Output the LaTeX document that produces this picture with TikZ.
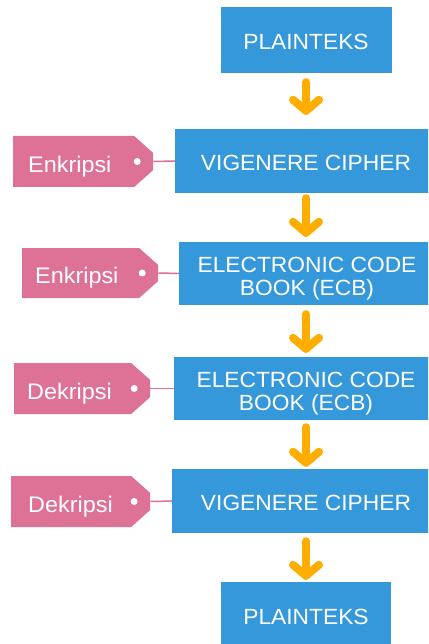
\documentclass[tikz,border=0pt]{standalone}
\usepackage{fontspec}
\setmainfont{Liberation Sans}
\newfontfamily\boxfont[FakeStretch=1.035]{Liberation Sans}
\newfontfamily\tagfont[FakeStretch=1.04]{Liberation Sans}
\definecolor{boxblue}{HTML}{3598DB}
\definecolor{tagpink}{HTML}{DE7196}
\definecolor{arrorange}{HTML}{FFAE00}
\newcommand\flowarrow[4]{%
  \draw[arr] ([yshift=-#3pt]#1.south) -- ([yshift=#4pt]#2.north);
  \draw[arr] ([shift={(-13pt,#4pt+11pt)}]#2.north) -- ([yshift=#4pt]#2.north) -- ([shift={(13pt,#4pt+11pt)}]#2.north);}
\begin{document}
\begin{tikzpicture}[x=1pt,y=-1pt,
  box/.style={fill=boxblue, inner sep=0pt},
  boxtext/.style={text=white, font=\boxfont\fontsize{22}{23}\selectfont, align=center, inner sep=0pt},
  tagn/.style={anchor=west, inner sep=0pt,
    path picture={
      \fill[tagpink] (path picture bounding box.north west) -- ([xshift=-19pt]path picture bounding box.north east)
        -- ([yshift=-17pt]path picture bounding box.north east) -- ([yshift=17pt]path picture bounding box.south east)
        -- ([xshift=-19pt]path picture bounding box.south east) -- (path picture bounding box.south west) -- cycle;
      \fill[white] ([xshift=-16pt]path picture bounding box.east) circle (3.5pt);}},
  tagtext/.style={anchor=west, text=white, font=\tagfont\fontsize{22.5}{24}\selectfont, inner sep=0pt},
  tagline/.style={draw=tagpink, line width=1.5pt},
  arr/.style={draw=arrorange, line width=8pt, line cap=round, line join=round}]
\useasboundingbox (0,0) rectangle (428,644);
\fill[white] (0,0) rectangle (428,644);
\clip (0,0) rectangle (428,644);

% boxes
\node[box, minimum width=171pt, minimum height=66pt] (b1) at (306,40) {};
\node[box, minimum width=262pt, minimum height=64pt] (b2) at (306,161) {};
\node[box, minimum width=254pt, minimum height=63pt] (b3) at (306,273.5) {};
\node[box, minimum width=264pt, minimum height=63pt] (b4) at (306,388.5) {};
\node[box, minimum width=268pt, minimum height=64pt] (b5) at (306,501) {};
\node[box, minimum width=170pt, minimum height=66pt] (b6) at (306,615) {};

\node[boxtext] (b1t) at ([yshift=-2.3pt]b1.center) {PLAINTEKS};
\node[boxtext] (b2t) at ([yshift=-2.3pt]b2.center) {VIGENERE CIPHER};
\node[boxtext] (b3t) at ([xshift=1pt,yshift=-4.7pt]b3.center) {ELECTRONIC CODE\\BOOK (ECB)};
\node[boxtext] (b4t) at ([yshift=-4.7pt]b4.center) {ELECTRONIC CODE\\BOOK (ECB)};
\node[boxtext] (b5t) at ([yshift=-2.3pt]b5.center) {VIGENERE CIPHER};
\node[boxtext] (b6t) at ([yshift=-2.3pt]b6.center) {PLAINTEKS};

% tags
\node[tagn, minimum width=140pt, minimum height=51pt] (t1) at (13,161.5) {};
\node[tagn, minimum width=136pt, minimum height=50pt] (t2) at (22,273) {};
\node[tagn, minimum width=136pt, minimum height=51pt] (t3) at (14,388.5) {};
\node[tagn, minimum width=139pt, minimum height=51pt] (t4) at (11,501.5) {};

\node[tagtext] (t1t) at ([xshift=15pt,yshift=-5pt]t1.west) {Enkripsi};
\node[tagtext] (t2t) at ([xshift=13pt,yshift=-5pt]t2.west) {Enkripsi};
\node[tagtext] (t3t) at ([xshift=13pt,yshift=-5pt]t3.west) {Dekripsi};
\node[tagtext] (t4t) at ([xshift=17pt,yshift=-5pt]t4.west) {Dekripsi};

\draw[tagline] (t1.east) -- (b2.west);
\draw[tagline] (t2.east) -- (b3.west);
\draw[tagline] (t3.east) -- (b4.west);
\draw[tagline] (t4.east) -- (b5.west);

% arrows
\flowarrow{b1}{b2}{9}{18}
\flowarrow{b2}{b3}{5}{9}
\flowarrow{b3}{b4}{9}{8}
\flowarrow{b4}{b5}{7}{6}
\flowarrow{b5}{b6}{8}{6}
\end{tikzpicture}
\end{document}
